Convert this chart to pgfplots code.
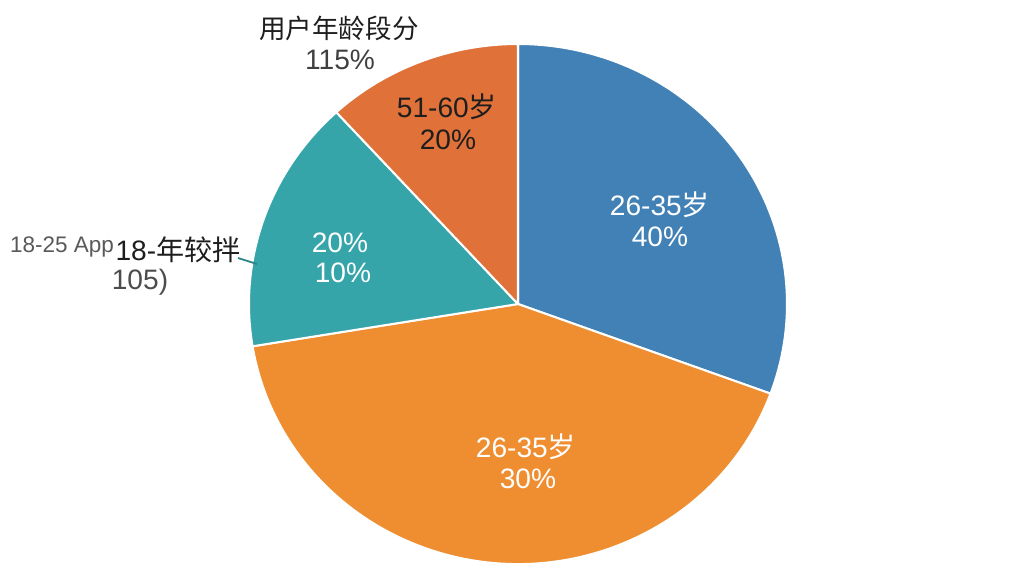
\documentclass[border=0pt]{standalone}
\usepackage{pgfplots}
\usepackage{pgfplotstable}
\pgfplotsset{compat=1.18}
\usepackage{fontspec}
\setmainfont{Liberation Sans}
\newfontfamily\cjk{Noto Sans CJK SC}

\definecolor{pieblue}{HTML}{4281B5}
\definecolor{pieorange}{HTML}{EF8E30}
\definecolor{pieteal}{HTML}{36A5AA}
\definecolor{piered}{HTML}{E07139}
\definecolor{txt}{HTML}{1E1E1E}

% share of each slice in percent, clockwise from 12 o'clock
\pgfplotstableread{
share colour
30.6 pieblue
41.8 pieorange
15.8 pieteal
11.8 piered
}\slices

\def\rx{4.203cm}
\def\ry{4.0625cm}

\begin{document}
\begin{tikzpicture}
\path[use as bounding box] (0,0) rectangle (16,9);
\begin{axis}[
    at={(0,0)}, anchor=south west,
    x=0.015625cm, y=0.015625cm,
    xmin=0, xmax=1024, ymin=0, ymax=576,
    hide axis,
    clip=false,
    ]
\xdef\angA{90}
\pgfplotsinvokeforeach{0,...,3}{
    \pgfplotstablegetelem{#1}{share}\of\slices \let\share\pgfplotsretval
    \pgfplotstablegetelem{#1}{colour}\of\slices \let\col\pgfplotsretval
    \pgfmathsetmacro\angB{\angA-3.6*\share}
    \edef\doslice{\noexpand\fill[\col, draw=white, line width=0.9pt, line join=round]
        (axis cs:518,272) -- ++(\angA:\rx\space and \ry)
        arc[start angle=\angA, end angle=\angB, x radius=\rx, y radius=\ry] -- cycle;}
    \doslice
    \xdef\angA{\angB}
}
\tikzset{lbl/.style={font=\fontsize{12.5}{14}\selectfont, inner sep=0pt, anchor=center}}
% labels inside slices
\node[lbl, white] at (axis cs:660,371) {26-35{\cjk 岁}};
\node[lbl, white] at (axis cs:660,339) {40\%};
\node[lbl, white] at (axis cs:526,129) {26-35{\cjk 岁}};
\node[lbl, white] at (axis cs:528,97) {30\%};
\node[lbl, white] at (axis cs:340,333) {20\%};
\node[lbl, white] at (axis cs:343,303) {10\%};
\node[lbl, txt] at (axis cs:447,469) {51-60{\cjk 岁}};
\node[lbl, txt] at (axis cs:448,436) {20\%};
% outside labels
\node[lbl, txt, font=\fontsize{11.8}{14}\selectfont] at (axis cs:339,548) {\cjk 用户年龄段分};
\node[lbl, txt!85] at (axis cs:340,516) {115\%};
\node[lbl, black!65, font=\fontsize{10}{12}\selectfont] at (axis cs:62,329) {18-25 App};
\node[lbl, txt] at (axis cs:178,326) {18-{\cjk 年较拌}};
\node[lbl, black!70] at (axis cs:140,294) {105)};
\draw[pieteal!80!black, line width=0.8pt] (axis cs:238,318) -- (axis cs:257,312);
\end{axis}
\end{tikzpicture}
\end{document}
